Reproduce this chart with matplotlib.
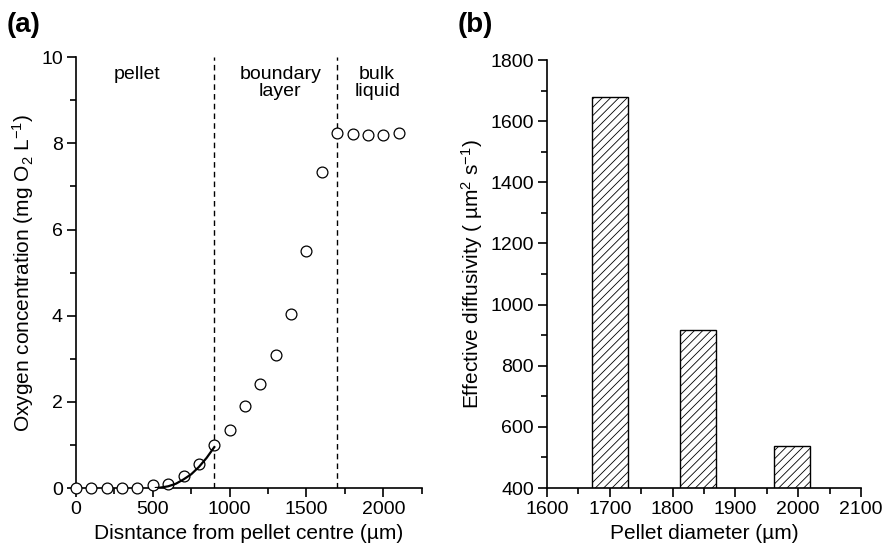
import matplotlib
matplotlib.use("Agg")
import matplotlib.pyplot as plt
from matplotlib.ticker import MultipleLocator

plt.rcParams['font.family'] = ['Liberation Sans', 'DejaVu Sans']
plt.rcParams['mathtext.fontset'] = 'custom'
plt.rcParams['mathtext.rm'] = 'Liberation Sans'
plt.rcParams['mathtext.it'] = 'Liberation Sans:italic'
plt.rcParams['hatch.linewidth'] = 0.6

# (a) oxygen profile
distance = [0, 100, 200, 300, 400, 500, 600, 700, 800, 900, 1000, 1100,
            1200, 1300, 1400, 1500, 1600, 1700, 1800, 1900, 2000, 2100]
oxygen = [0.0, 0.0, 0.0, 0.0, 0.0, 0.06, 0.1, 0.28, 0.56, 1.0, 1.35, 1.9,
          2.41, 3.09, 4.05, 5.5, 7.34, 8.23, 8.21, 8.19, 8.2, 8.25]
fit_x = [520, 550, 600, 650, 700, 750, 800, 850, 900]
fit_y = [0.0, 0.01, 0.04, 0.1, 0.2, 0.32, 0.49, 0.7, 0.95]
boundaries = [900, 1700]

# (b) effective diffusivity
diameter = [1700, 1840, 1990]
diffusivity = [1678, 916, 536]

fig = plt.figure(figsize=(8.86, 5.5), dpi=100)
ax1 = fig.add_axes([0.0858, 0.1127, 0.3902, 0.7833])
ax2 = fig.add_axes([0.6174, 0.1127, 0.3544, 0.7782])

for ax in (ax1, ax2):
    ax.spines['top'].set_visible(False)
    ax.spines['right'].set_visible(False)
    ax.spines['left'].set_linewidth(1.2)
    ax.spines['bottom'].set_linewidth(1.2)
    ax.tick_params(which='major', direction='out', length=6.5, width=1.2,
                   labelsize=14, pad=3)
    ax.tick_params(which='minor', direction='out', length=4, width=1.2)

ax1.plot(distance, oxygen, 'o', mfc='white', mec='black', ms=7.8, mew=0.9,
         clip_on=False, zorder=3)
ax1.plot(fit_x, fit_y, '-', color='black', lw=1.6, zorder=4)
for b in boundaries:
    ax1.axvline(b, color='black', lw=1, ls=(0, (4, 3)))
ax1.set_xlim(0, 2250)
ax1.set_ylim(0, 10)
ax1.xaxis.set_major_locator(MultipleLocator(500))
ax1.xaxis.set_minor_locator(MultipleLocator(250))
ax1.yaxis.set_major_locator(MultipleLocator(2))
ax1.yaxis.set_minor_locator(MultipleLocator(1))
ax1.set_xlabel('Disntance from pellet centre (\u00b5m)', fontsize=15)
ax1.set_ylabel('Oxygen concentration (mg O$_2$ L$^{-1}$)', fontsize=15)
ax1.text(400, 9.8, 'pellet', ha='center', va='top', fontsize=14)
ax1.text(1330, 9.8, 'boundary\nlayer', ha='center', va='top', fontsize=14,
         linespacing=1.05)
ax1.text(1960, 9.8, 'bulk\nliquid', ha='center', va='top', fontsize=14,
         linespacing=1.05)

ax2.bar(diameter, diffusivity, width=58, bottom=0, color='white',
        edgecolor='black', lw=1, hatch='////')
ax2.set_xlim(1600, 2100)
ax2.set_ylim(400, 1800)
ax2.xaxis.set_major_locator(MultipleLocator(100))
ax2.xaxis.set_minor_locator(MultipleLocator(50))
ax2.yaxis.set_major_locator(MultipleLocator(200))
ax2.yaxis.set_minor_locator(MultipleLocator(100))
ax2.set_xlabel('Pellet diameter (\u00b5m)', fontsize=15)
ax2.set_ylabel('Effective diffusivity ( \u00b5m$^2$ s$^{-1}$)', fontsize=15)

fig.text(0.008, 0.978, '(a)', fontsize=20, fontweight='bold', va='top')
fig.text(0.517, 0.978, '(b)', fontsize=20, fontweight='bold', va='top')

fig.savefig('out.png', dpi=100)
